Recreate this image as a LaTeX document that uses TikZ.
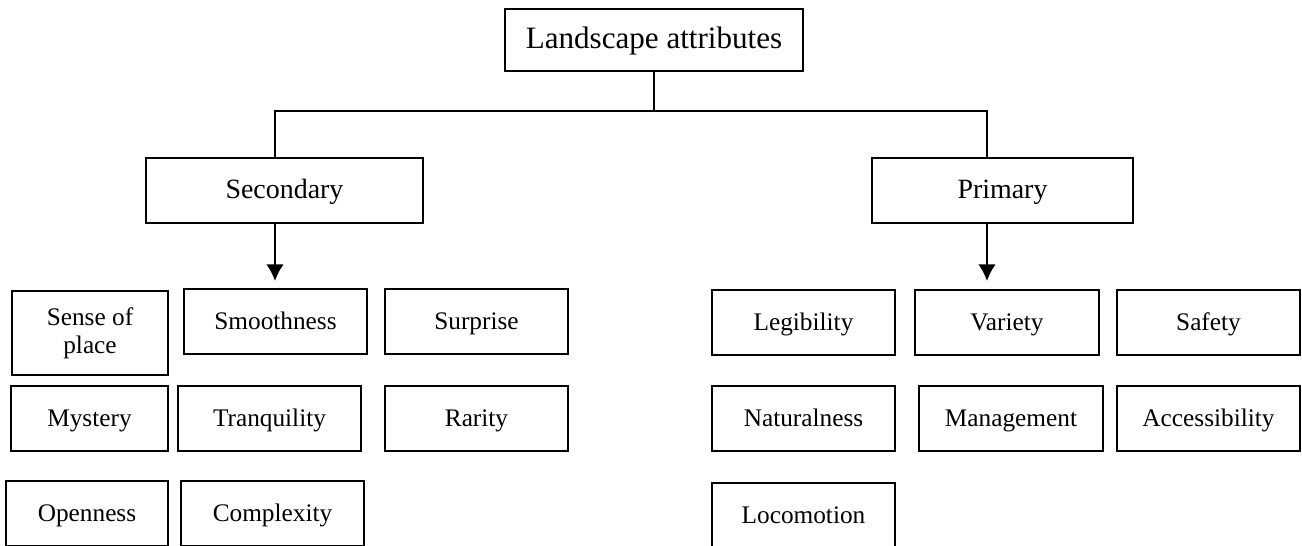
\documentclass[tikz,border=0pt]{standalone}
\usepackage{fontspec}
\setmainfont{Liberation Serif}
\usetikzlibrary{%
  arrows.meta,%
  positioning%
}
\tikzset{
  box/.style={draw,line width=1.1pt,inner sep=0pt,align=center},
  leafbox/.style={box,minimum width=3.66cm,minimum height=1.3cm,
    font=\fontsize{14.4}{16}\selectfont},
  leaf/.style={leafbox,text height=11pt,text depth=2pt},
  branch/.style={box,minimum height=1.3cm,text height=12pt,text depth=2.5pt,
    font=\fontsize{15.9}{18}\selectfont},
  link/.style={line width=1.1pt},
  down/.style={link,-{Latex[length=9.5pt,width=10pt]}}
}

\begin{document}
\begin{tikzpicture}[x=0.02cm,y=-0.02cm]

  \useasboundingbox (0,0) rectangle (1302,546);
  \clip (0,0) rectangle (1302,546);

  %% root
  \node[box,line width=1.4pt,minimum width=5.96cm,minimum height=1.24cm,
        text height=13pt,text depth=3.5pt,
        font=\fontsize{17.7}{20}\selectfont] (root) at (654,40) {Landscape attributes};

  %% the two branches
  \node[branch,minimum width=5.54cm] (sec) at (284.5,190.5) {Secondary};
  \node[branch,minimum width=5.22cm] (pri) at (1002.5,190.5) {Primary};

  %% joints and arrow tips
  \coordinate (secjoin) at (275,111);
  \coordinate (prijoin) at (987,111);
  \coordinate (sectip) at (275,281);
  \coordinate (pritip) at (987,281);

  \draw[link] (root.south) -- (root.south |- secjoin);
  \draw[link] (secjoin |- sec.north) -- (secjoin) -- (prijoin) -- (prijoin |- pri.north);

  \draw[down] (sec.south -| sectip) -- (sectip);
  \draw[down] (pri.south -| pritip) -- (pritip);

  %%%%%%%%%%%%%%%%
  % secondary attributes
  \node[leafbox,minimum width=3.12cm,minimum height=1.68cm] (sense) at (90,333) {Sense of\\place};
  \node[leaf] (smooth) at (275.5,321.5) {Smoothness};
  \node[leaf] (surprise) at (476.5,321.5) {Surprise};

  \node[leaf,minimum width=3.14cm] (mystery) at (89.5,418.5) {Mystery};
  \node[leaf] (tranq) at (269.5,418.5) {Tranquility};
  \node[leaf] (rarity) at (476.5,418.5) {Rarity};

  \node[leaf,minimum width=3.24cm] (open) at (87,513.5) {Openness};
  \node[leaf] (complex) at (272.5,513.5) {Complexity};

  %%%%%%%%%%%%%%%%
  % primary attributes
  \node[leaf] (legib) at (803.5,322.5) {Legibility};
  \node[leaf,minimum width=3.68cm] (variety) at (1007,322.5) {Variety};
  \node[leaf] (safety) at (1208.5,322.5) {Safety};

  \node[leaf] (natural) at (803.5,418.5) {Naturalness};
  \node[leaf,minimum width=3.68cm] (manage) at (1011,418.5) {Management};
  \node[leaf] (access) at (1208.5,418.5) {Accessibility};

  \node[leaf] (loco) at (803.5,515.5) {Locomotion};

\end{tikzpicture}
\end{document}
